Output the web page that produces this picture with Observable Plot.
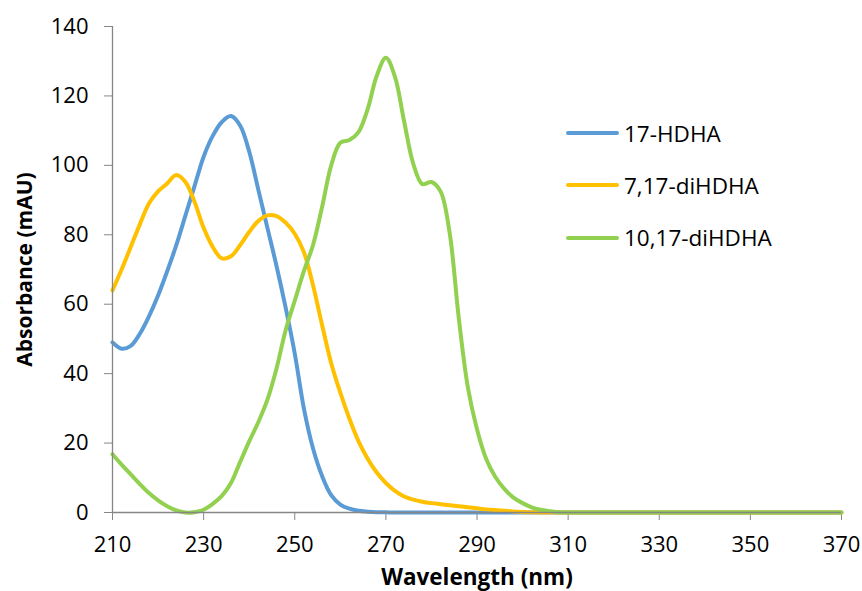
<!DOCTYPE html>
<html>
<head>
<meta charset="utf-8">
<script src="https://cdn.jsdelivr.net/npm/d3@7"></script>
<script src="https://cdn.jsdelivr.net/npm/@observablehq/plot@0.6"></script>
<style>
  html, body { margin: 0; padding: 0; background: #fff; }
  #wrap { position: relative; width: 862px; height: 591px; overflow: hidden; font-family: "Open Sans", sans-serif; }
  #legend { position: absolute; left: 566px; top: 113px; }
  .row { display: flex; align-items: center; height: 40px; margin-bottom: 12.3px; font-size: 22.5px; color: #000; }
  .sw { width: 53px; height: 4px; border-radius: 2px; margin-right: 5px; }
</style>
</head>
<body>
<div id="wrap"><div id="legend"></div></div>
<script>
const wavelength = [210,212,214,216,218,220,222,224,226,228,230,232,234,236,238,240,242,244,246,248,250,252,254,256,258,260,262,264,266,268,270,272,274,276,278,280,282,284,286,288,290,292,294,296,298,300,302,304,306,308,310,320,330,340,350,360,370];
const hdha17 = [49,47.2,48,51.5,56.5,62.5,69.5,77,85.5,94,102.5,108.5,112.5,114.2,111.5,104,93,82,71,59,45.8,30,18.5,10.5,5,2.3,1.1,0.5,0.25,0.1,0.05,0,0,0,0,0,0,0,0,0,0,0,0,0,0,0,0,0,0,0,0,0,0,0,0,0,0];
const diHDHA7_17 = [64,70,76.5,83,89,92.5,94.8,97.2,95.2,89.5,82,76.5,73.2,73.8,77,80.8,84,85.6,85.4,83.5,80.3,75,65.5,54,43,34.5,27,20.5,15.5,11.5,8.5,6.2,4.6,3.7,3.1,2.7,2.4,2.1,1.8,1.5,1.2,0.9,0.7,0.5,0.3,0.15,0.05,0,0,0,0,0,0,0,0,0,0];
const diHDHA10_17 = [16.8,13.8,11,8.2,5.6,3.5,1.8,0.6,0,0.1,0.8,2.5,4.8,8.5,14.5,20.5,26,32.5,41.5,52.5,61,69.5,77,88,100,106.5,107.3,109.6,116.2,125.8,131,125.5,112.7,100.5,94.6,95.2,92.5,80.5,56,36,24,15.5,10.3,6.8,4.3,2.7,1.5,0.8,0.35,0.1,0,0,0,0,0,0,0];
const seriesNames = ["17-HDHA", "7,17-diHDHA", "10,17-diHDHA"];
const seriesColors = ["#5B9BD5", "#FFC000", "#92D050"];
const xTicks = [210,230,250,270,290,310,330,350,370];
const yTicks = [0,20,40,60,80,100,120,140];

const seriesValues = [hdha17, diHDHA7_17, diHDHA10_17];
const rows = seriesNames.flatMap((name, s) => wavelength.map((w, i) => ({series: name, wavelength: w, value: seriesValues[s][i]})));

const axisGray = "#868686";
const chart = Plot.plot({
  width: 862,
  height: 591,
  marginLeft: 112,
  marginRight: 21,
  marginTop: 26,
  marginBottom: 79,
  style: {fontFamily: "'Open Sans', sans-serif", fontSize: "22px", color: "#000", background: "#fff"},
  x: {domain: [210, 370]},
  y: {domain: [0, 140]},
  color: {domain: seriesNames, range: seriesColors},
  marks: [
    Plot.axisY({ticks: yTicks, tickSize: 8, tickPadding: 16, stroke: axisGray, fill: "#000", label: null, fontSize: 22}),
    Plot.axisX({ticks: xTicks, tickSize: 8, tickPadding: 16, stroke: axisGray, fill: "#000", label: null, fontSize: 22}),
    Plot.lineY(rows, {x: "wavelength", y: "value", stroke: "series", strokeWidth: 4, curve: "catmull-rom"}),
    Plot.ruleX([210], {stroke: axisGray, strokeWidth: 1.3}),
    Plot.ruleY([0], {stroke: axisGray, strokeWidth: 1.3}),
    Plot.text(["Absorbance (mAU)"], {frameAnchor: "left", rotate: -90, textAnchor: "middle", lineAnchor: "middle", dx: -87, fontWeight: "bold", fontSize: 21, fill: "#000"}),
    Plot.text(["Wavelength (nm)"], {frameAnchor: "bottom", textAnchor: "middle", lineAnchor: "middle", dy: 65, fontWeight: "bold", fontSize: 22.5, fill: "#000"})
  ]
});
document.getElementById("wrap").prepend(chart);

const legend = document.getElementById("legend");
seriesNames.forEach((name, i) => {
  const row = document.createElement("div");
  row.className = "row";
  const sw = document.createElement("div");
  sw.className = "sw";
  sw.style.background = seriesColors[i];
  const t = document.createElement("span");
  t.textContent = name;
  row.append(sw, t);
  legend.append(row);
});
</script>
</body>
</html>
